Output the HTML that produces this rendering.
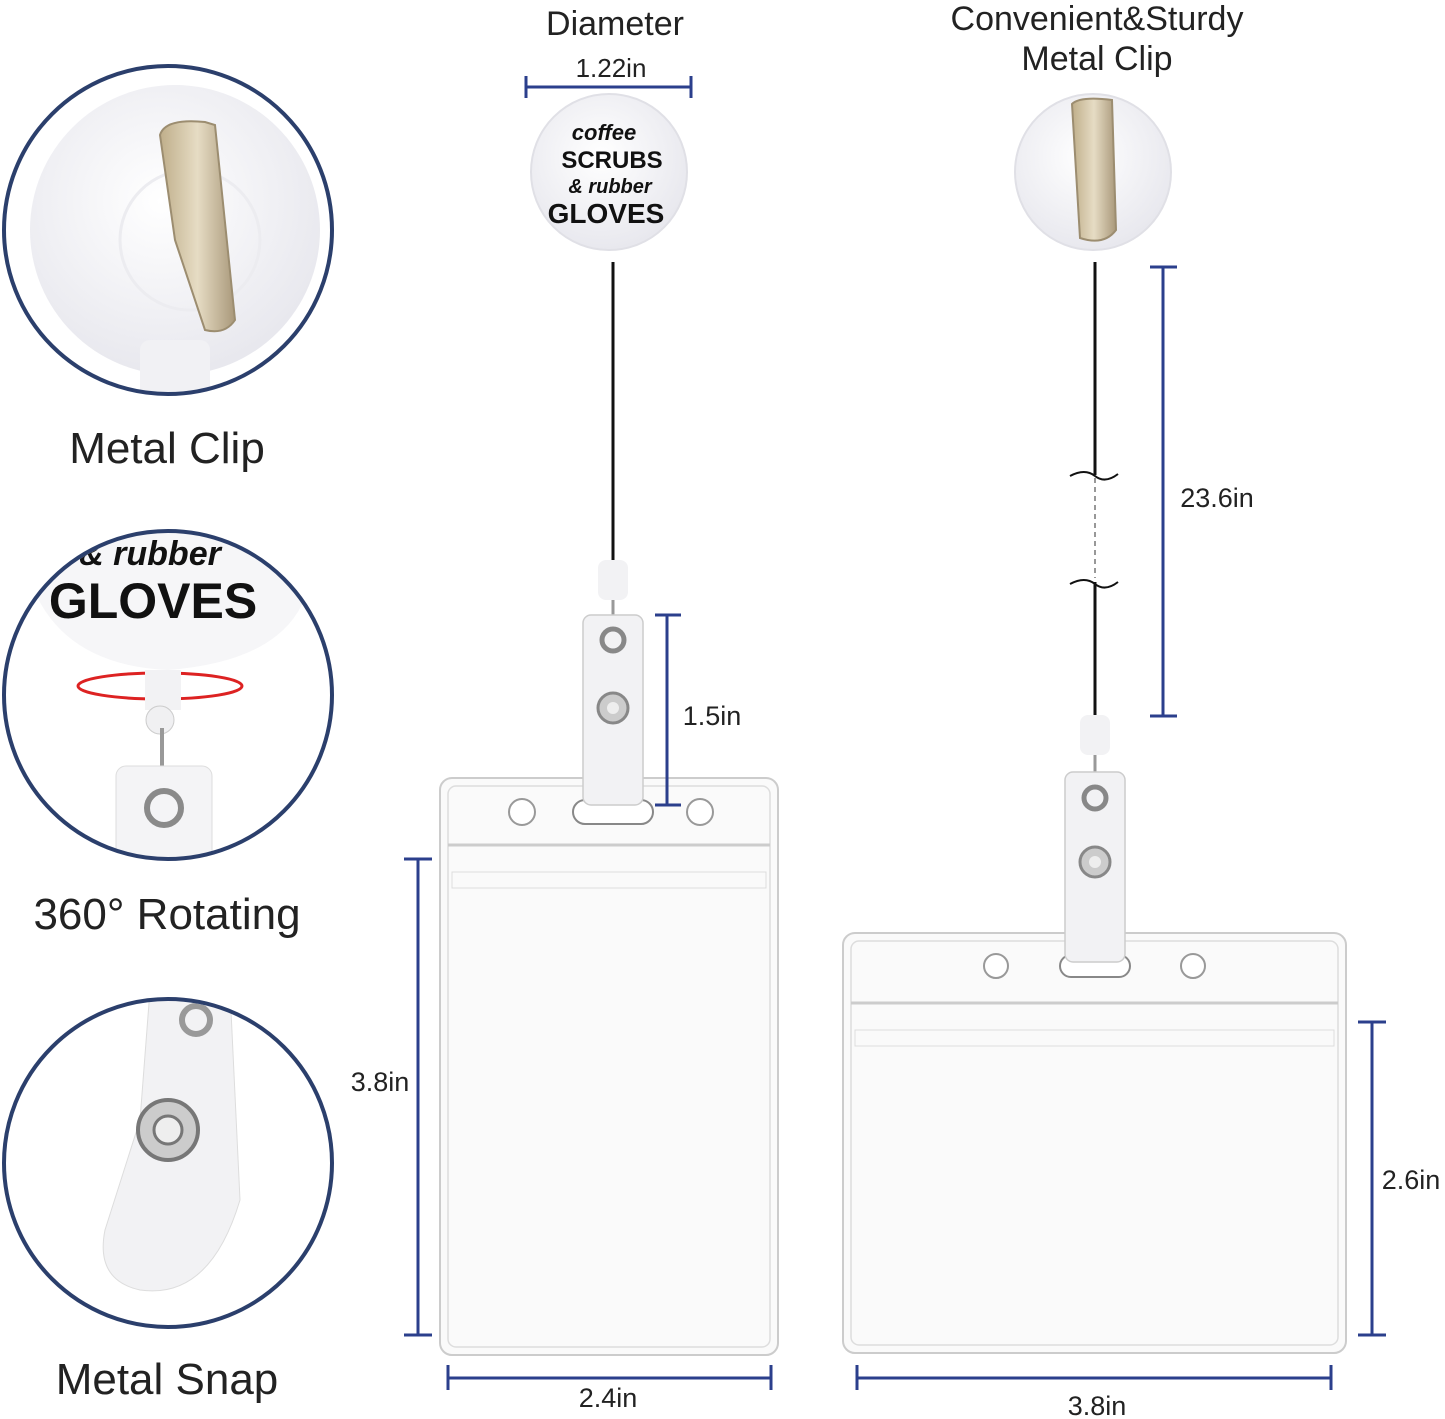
<!DOCTYPE html>
<html><head><meta charset="utf-8"><style>
html,body{margin:0;padding:0;background:#fff}
svg{display:block}
text{font-family:"Liberation Sans",sans-serif;fill:#222}
</style></head><body>
<svg width="1445" height="1419" viewBox="0 0 1445 1419" xmlns="http://www.w3.org/2000/svg">
<defs>
<linearGradient id="metal" x1="0" x2="1"><stop offset="0" stop-color="#bfae8a"/><stop offset=".5" stop-color="#e6dcc4"/><stop offset="1" stop-color="#a9987a"/></linearGradient>
<radialGradient id="reel" cx=".45" cy=".4" r=".6"><stop offset="0" stop-color="#fff"/><stop offset="1" stop-color="#e8e8ee"/></radialGradient>
<clipPath id="c1"><circle cx="168" cy="230" r="162"/></clipPath>
<clipPath id="c2"><circle cx="168" cy="695" r="162"/></clipPath>
<clipPath id="c3"><circle cx="168" cy="1163" r="162"/></clipPath>
</defs>
<g fill="#fff">
<circle cx="168" cy="230" r="164"/>
<circle cx="168" cy="695" r="164"/>
<circle cx="168" cy="1163" r="164"/>
</g>
<!-- circle 1 content -->
<g clip-path="url(#c1)">
<circle cx="175" cy="230" r="145" fill="url(#reel)"/>
<circle cx="190" cy="240" r="70" fill="none" stroke="#ececf0" stroke-width="3"/>
<path d="M160 135 Q165 118 205 122 L215 125 L235 320 Q225 335 205 330 L175 240 Z" fill="url(#metal)" stroke="#9c8d70" stroke-width="2"/>
<rect x="140" y="340" width="70" height="60" rx="10" fill="#f1f1f4"/>
</g>
<!-- circle 2 content -->
<g clip-path="url(#c2)">
<path d="M30 580 Q40 520 168 515 Q300 520 310 580 Q295 660 168 670 Q60 665 30 580Z" fill="#f6f6f8"/>
<text x="150" y="565" font-family="Liberation Serif" font-style="italic" font-weight="bold" font-size="34" text-anchor="middle" style="fill:#111">&amp; rubber</text>
<text x="153" y="618" font-weight="bold" font-size="50" text-anchor="middle" style="fill:#111">GLOVES</text>
<ellipse cx="160" cy="686" rx="82" ry="13" fill="none" stroke="#d22" stroke-width="3"/>
<rect x="145" y="670" width="36" height="40" fill="#f2f2f4"/>
<circle cx="160" cy="720" r="14" fill="#f0f0f2" stroke="#ccc"/>
<line x1="162" y1="728" x2="162" y2="790" stroke="#999" stroke-width="4"/>
<rect x="116" y="766" width="96" height="100" rx="10" fill="#f4f4f6" stroke="#ddd"/>
<circle cx="164" cy="808" r="17" fill="none" stroke="#8a8a8a" stroke-width="6"/>
</g>
<!-- circle 3 content -->
<g clip-path="url(#c3)">
<path d="M150 990 L230 990 L240 1200 Q210 1300 140 1290 Q95 1280 105 1230 L140 1120Z" fill="#f2f2f4" stroke="#ddd"/>
<circle cx="196" cy="1020" r="14" fill="none" stroke="#999" stroke-width="6"/>
<circle cx="168" cy="1130" r="30" fill="#ccc" stroke="#777" stroke-width="4"/>
<circle cx="168" cy="1130" r="14" fill="#eee" stroke="#777" stroke-width="3"/>
</g>
<g stroke="#2b3f6c" stroke-width="4" fill="none">
<circle cx="168" cy="230" r="164"/>
<circle cx="168" cy="695" r="164"/>
<circle cx="168" cy="1163" r="164"/>
</g>
<text x="167" y="463" font-size="44" text-anchor="middle">Metal Clip</text>
<text x="167" y="929" font-size="44" text-anchor="middle">360° Rotating</text>
<text x="167" y="1394" font-size="44" text-anchor="middle">Metal Snap</text>

<text x="615" y="35" font-size="34" text-anchor="middle">Diameter</text>
<text x="611" y="77" font-size="26" text-anchor="middle">1.22in</text>
<g stroke="#2b3f8c" stroke-width="3"><line x1="526" y1="87" x2="691" y2="87"/><line x1="526" y1="76" x2="526" y2="98"/><line x1="691" y1="76" x2="691" y2="98"/></g>
<circle cx="609" cy="172" r="78" fill="url(#reel)" stroke="#e0e0e6" stroke-width="2"/>
<text x="604" y="140" font-family="Liberation Serif" font-style="italic" font-weight="bold" font-size="22" text-anchor="middle" style="fill:#111">coffee</text>
<text x="612" y="168" font-weight="bold" font-size="24" text-anchor="middle" style="fill:#111">SCRUBS</text>
<text x="610" y="193" font-family="Liberation Serif" font-style="italic" font-weight="bold" font-size="20" text-anchor="middle" style="fill:#111">&amp; rubber</text>
<text x="606" y="223" font-weight="bold" font-size="28" text-anchor="middle" style="fill:#111">GLOVES</text>
<line x1="613" y1="262" x2="613" y2="565" stroke="#111" stroke-width="3"/>
<rect x="598" y="560" width="30" height="40" rx="8" fill="#f2f2f4"/>
<line x1="613" y1="600" x2="613" y2="630" stroke="#999" stroke-width="3"/>
<text x="1097" y="30" font-size="34" text-anchor="middle">Convenient&amp;Sturdy</text>
<text x="1097" y="70" font-size="34" text-anchor="middle">Metal Clip</text>
<circle cx="1093" cy="172" r="78" fill="url(#reel)" stroke="#e0e0e6" stroke-width="2"/>
<path d="M1072 104 Q1080 96 1112 100 L1116 230 Q1104 246 1080 238 Z" fill="url(#metal)" stroke="#9c8d70" stroke-width="2"/>
<line x1="1095" y1="262" x2="1095" y2="475" stroke="#111" stroke-width="3"/>
<line x1="1095" y1="478" x2="1095" y2="578" stroke="#777" stroke-width="1.5" stroke-dasharray="5,4"/>
<line x1="1095" y1="582" x2="1095" y2="720" stroke="#111" stroke-width="3"/>
<path d="M1070 476 Q1085 468 1095 476 Q1105 484 1118 474" fill="none" stroke="#111" stroke-width="2"/>
<path d="M1070 584 Q1085 576 1095 584 Q1105 592 1118 582" fill="none" stroke="#111" stroke-width="2"/>
<g stroke="#2b3f8c" stroke-width="3"><line x1="1163" y1="267" x2="1163" y2="716"/><line x1="1150" y1="267" x2="1177" y2="267"/><line x1="1150" y1="716" x2="1177" y2="716"/></g>
<text x="1217" y="507" font-size="27" text-anchor="middle">23.6in</text>
<rect x="1080" y="715" width="30" height="40" rx="8" fill="#f2f2f4"/>
<line x1="1095" y1="755" x2="1095" y2="790" stroke="#999" stroke-width="3"/>

<rect x="440" y="778" width="338" height="577" rx="12" fill="#fafafa" stroke="#ccc" stroke-width="2"/>
<rect x="448" y="786" width="322" height="561" rx="8" fill="none" stroke="#ddd" stroke-width="1.5"/>
<line x1="448" y1="845" x2="770" y2="845" stroke="#ccc" stroke-width="3"/>
<rect x="452" y="872" width="314" height="16" fill="none" stroke="#ddd"/>
<circle cx="522" cy="812" r="13" fill="#fff" stroke="#999" stroke-width="2"/>
<circle cx="700" cy="812" r="13" fill="#fff" stroke="#999" stroke-width="2"/>
<rect x="573" y="800" width="80" height="24" rx="12" fill="#fff" stroke="#888" stroke-width="2"/>
<rect x="583" y="615" width="60" height="190" rx="8" fill="#f2f2f4" stroke="#ccc" stroke-width="1.5"/>
<circle cx="613" cy="640" r="11" fill="none" stroke="#888" stroke-width="5"/>
<circle cx="613" cy="708" r="15" fill="#ccc" stroke="#888" stroke-width="3"/>
<circle cx="613" cy="708" r="6" fill="#eee"/>
<g stroke="#2b3f8c" stroke-width="3">
<line x1="667" y1="615" x2="667" y2="805"/><line x1="655" y1="615" x2="681" y2="615"/><line x1="655" y1="805" x2="681" y2="805"/>
<line x1="418" y1="859" x2="418" y2="1335"/><line x1="404" y1="859" x2="432" y2="859"/><line x1="404" y1="1335" x2="432" y2="1335"/>
<line x1="448" y1="1378" x2="771" y2="1378"/><line x1="448" y1="1365" x2="448" y2="1390"/><line x1="771" y1="1365" x2="771" y2="1390"/>
</g>
<text x="712" y="725" font-size="27" text-anchor="middle">1.5in</text>
<text x="380" y="1091" font-size="27" text-anchor="middle">3.8in</text>
<text x="608" y="1407" font-size="27" text-anchor="middle">2.4in</text>

<rect x="843" y="933" width="503" height="420" rx="12" fill="#fafafa" stroke="#ccc" stroke-width="2"/>
<rect x="851" y="941" width="487" height="404" rx="8" fill="none" stroke="#ddd" stroke-width="1.5"/>
<line x1="851" y1="1003" x2="1338" y2="1003" stroke="#ccc" stroke-width="3"/>
<rect x="855" y="1030" width="479" height="16" fill="none" stroke="#ddd"/>
<circle cx="996" cy="966" r="12" fill="#fff" stroke="#999" stroke-width="2"/>
<circle cx="1193" cy="966" r="12" fill="#fff" stroke="#999" stroke-width="2"/>
<rect x="1060" y="955" width="70" height="22" rx="11" fill="#fff" stroke="#888" stroke-width="2"/>
<rect x="1065" y="772" width="60" height="190" rx="8" fill="#f2f2f4" stroke="#ccc" stroke-width="1.5"/>
<circle cx="1095" cy="798" r="11" fill="none" stroke="#888" stroke-width="5"/>
<circle cx="1095" cy="862" r="15" fill="#ccc" stroke="#888" stroke-width="3"/>
<circle cx="1095" cy="862" r="6" fill="#eee"/>
<g stroke="#2b3f8c" stroke-width="3">
<line x1="1372" y1="1022" x2="1372" y2="1335"/><line x1="1358" y1="1022" x2="1386" y2="1022"/><line x1="1358" y1="1335" x2="1386" y2="1335"/>
<line x1="857" y1="1378" x2="1331" y2="1378"/><line x1="857" y1="1365" x2="857" y2="1390"/><line x1="1331" y1="1365" x2="1331" y2="1390"/>
</g>
<text x="1411" y="1189" font-size="27" text-anchor="middle">2.6in</text>
<text x="1097" y="1415" font-size="27" text-anchor="middle">3.8in</text>
</svg>
</body></html>
